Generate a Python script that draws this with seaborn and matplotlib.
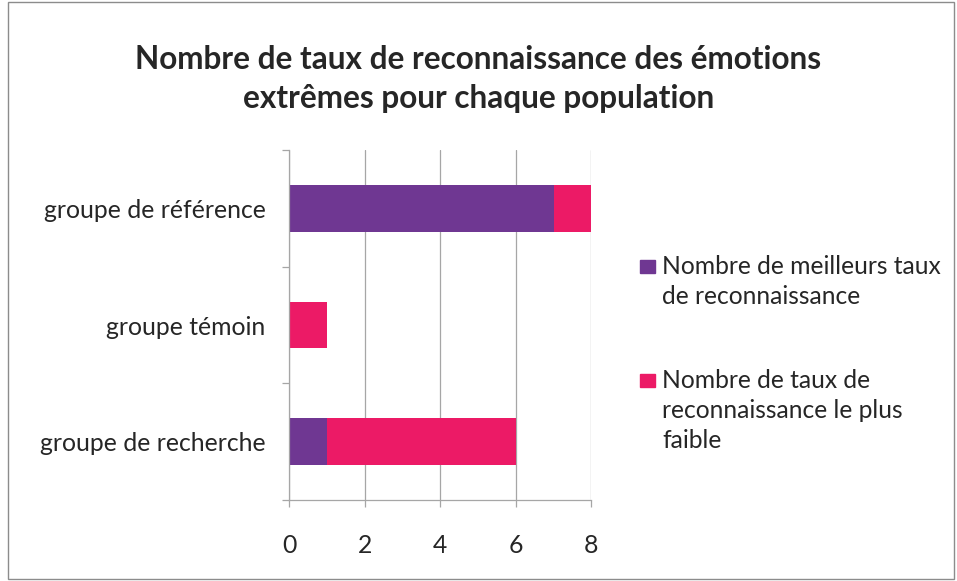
import numpy as np
import pandas as pd
import matplotlib
matplotlib.use("Agg")
import matplotlib.pyplot as plt
from matplotlib.patches import Rectangle
import seaborn as sns

# data
groupes = ["groupe de référence", "groupe témoin", "groupe de recherche"]
meilleurs = [7, 0, 1]
plus_faible = [1, 1, 5]
series_labels = [
    "Nombre de meilleurs taux\nde reconnaissance",
    "Nombre de taux de\nreconnaissance le plus\nfaible",
]
x_ticks = [0, 2, 4, 6, 8]

purple = "#6F3792"
pink = "#EC1A66"
grey = "#A6A6A6"

df = pd.DataFrame({
    "groupe": groupes,
    "meilleurs": meilleurs,
    "faible": plus_faible,
})
df["total"] = df["meilleurs"] + df["faible"]

sns.set_style("white")
plt.rcParams["font.family"] = ["Lato", "DejaVu Sans"]

fig = plt.figure(figsize=(9.57, 5.81), dpi=100)
ax = fig.add_axes([0.302, 0.139, 0.316, 0.603])

# stacked bars: total in pink, purple part drawn over it
sns.barplot(data=df, y="groupe", x="total", color=pink, width=0.4,
            saturation=1, ax=ax, orient="h", linewidth=0)
sns.barplot(data=df, y="groupe", x="meilleurs", color=purple, width=0.4,
            saturation=1, ax=ax, orient="h", linewidth=0)

ax.set_xlim(0, 8)
ax.set_ylim(2.5, -0.5)
ax.set_xticks(x_ticks)
ax.set_xticklabels([str(t) for t in x_ticks])
ax.set_xlabel("")
ax.set_ylabel("")

ax.grid(axis="x", color=grey, linewidth=0.9)
ax.set_axisbelow(True)
for side in ["top", "right"]:
    ax.spines[side].set_visible(False)
for side in ["left", "bottom"]:
    ax.spines[side].set_color(grey)
    ax.spines[side].set_linewidth(0.9)

ax.set_yticks([-0.5, 0.5, 1.5, 2.5], minor=True)
ax.tick_params(axis="y", which="minor", length=5, color=grey, width=0.9, left=True)
ax.tick_params(axis="y", which="major", length=0, pad=17, labelsize=17.8,
               labelcolor="#262626")
ax.tick_params(axis="x", which="major", length=5, color=grey, width=0.9,
               bottom=True, pad=19, labelsize=17.8, labelcolor="#262626")

fig.text(0.5, 0.864, "Nombre de taux de reconnaissance des émotions\nextrêmes pour chaque population",
         ha="center", va="center", fontsize=22.7, fontweight="bold",
         color="#262626", linespacing=1.45)

# legend, squares aligned to first line like the original
leg_y = [0.561, 0.365]
colors = [purple, pink]
for lab, col, yy in zip(series_labels, colors, leg_y):
    fig.patches.append(Rectangle((0.669, yy - 0.031), 0.0157, 0.0224,
                                 transform=fig.transFigure, color=col))
    fig.text(0.692, yy, lab, ha="left", va="top", fontsize=17.7,
             color="#262626", linespacing=1.38)

# outer frame
fig.patches.append(Rectangle((0.008, 0.003), 0.989, 0.994, transform=fig.transFigure,
                             fill=False, edgecolor="#8C8C8C", linewidth=1))

fig.savefig("out.png", dpi=100)
